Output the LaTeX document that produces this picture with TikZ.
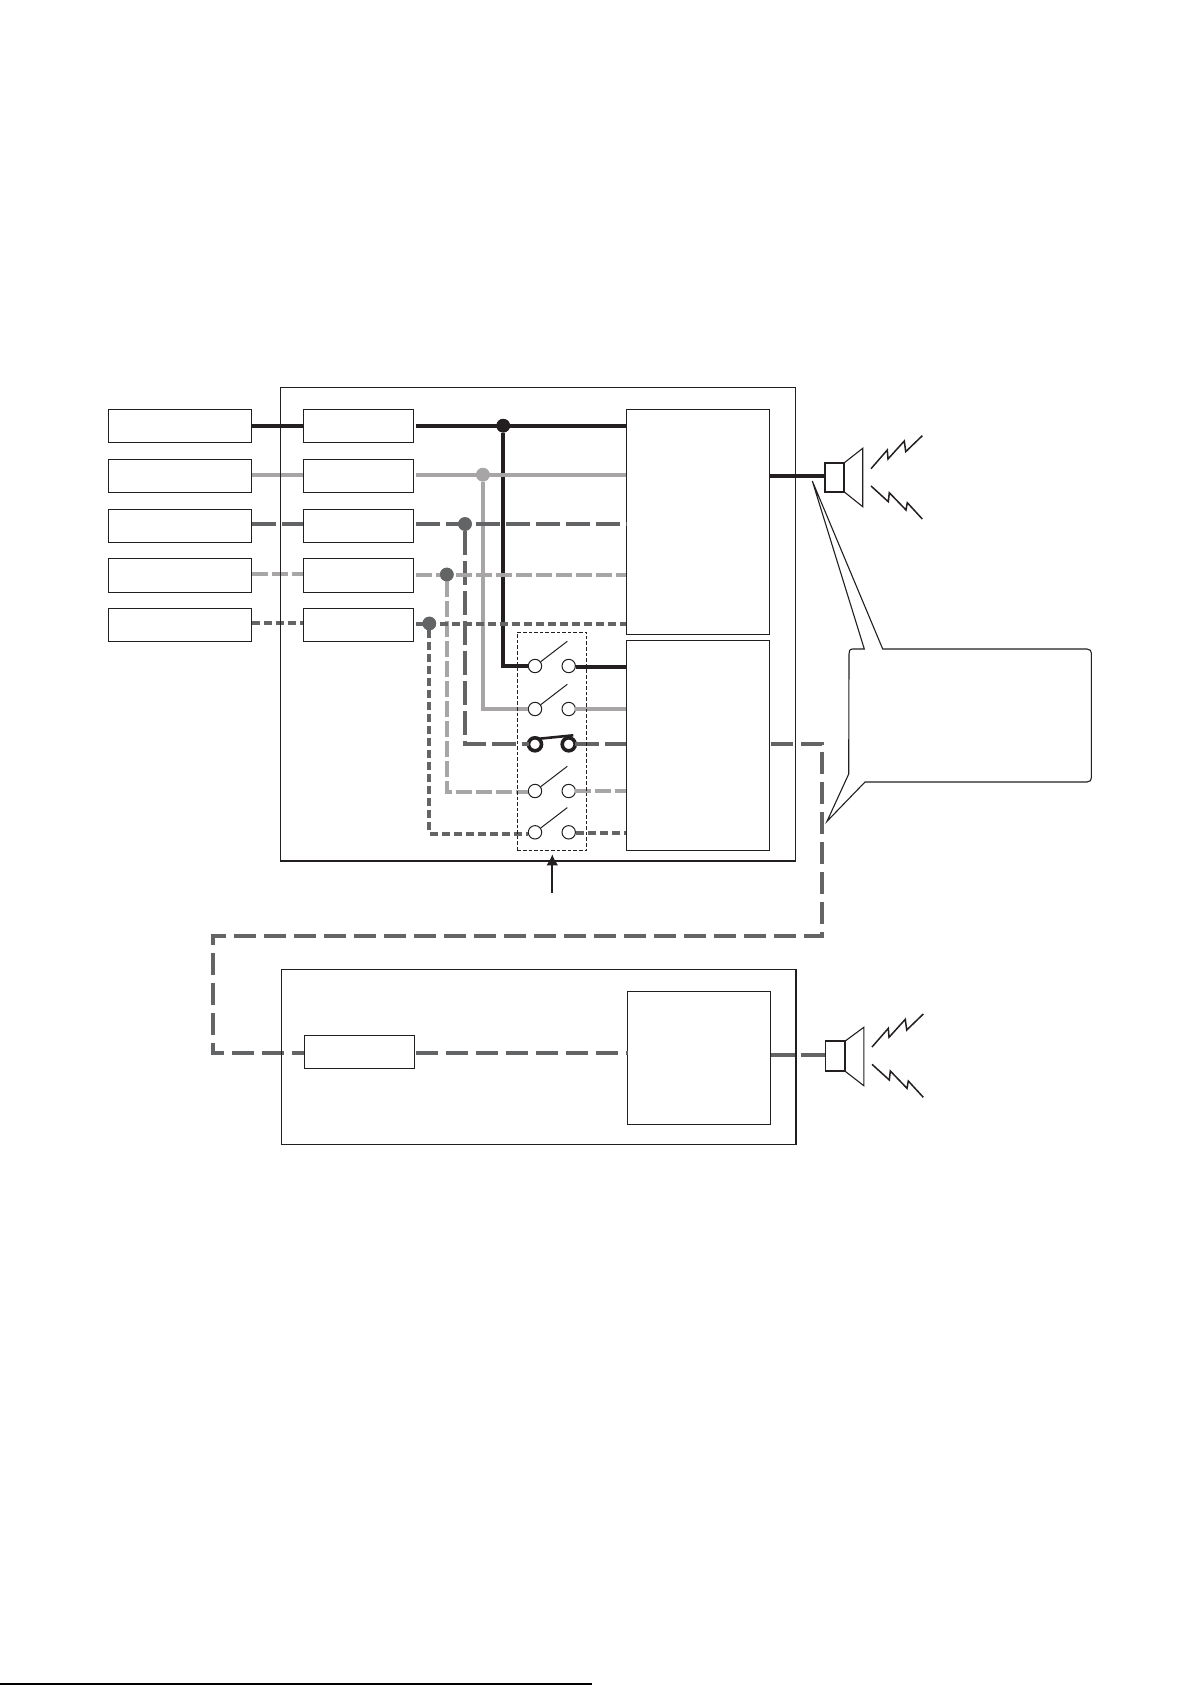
\documentclass[tikz,border=0pt]{standalone}
\usetikzlibrary{arrows.meta}
\definecolor{wblack}{HTML}{231F20}
\definecolor{wlight}{HTML}{A7A5A6}
\definecolor{wdark}{HTML}{636466}
\tikzset{
  blk/.style={draw=wblack,line width=1.15pt,inner sep=0pt,outer sep=0pt,anchor=north west},
  wire/.style={line width=4pt,line cap=butt,line join=miter},
  wa/.style={wire,draw=wblack},
  wb/.style={wire,draw=wlight},
  wc/.style={wire,draw=wdark,dash pattern=on 24pt off 6pt},
  wd/.style={wire,draw=wlight,dash pattern=on 16pt off 4pt},
  we/.style={wire,draw=wdark,dash pattern=on 8pt off 4pt},
  wf/.style={wire,draw=wdark,dash pattern=on 22pt off 8pt},
  dot/.style={circle,inner sep=0pt,outer sep=0pt,minimum size=13.6pt},
  swc/.style={circle,draw=wblack,fill=white,line width=1pt,inner sep=0pt,outer sep=0pt,minimum size=13.4pt},
  swt/.style={circle,draw=wblack,fill=white,line width=3.6pt,inner sep=0pt,outer sep=0pt,minimum size=13pt},
  blade/.style={draw=wblack,line width=1pt},
  thin line/.style={draw=wblack,line width=1.1pt,line join=miter},
  bolt/.style={draw=wblack,line width=1.5pt,line join=miter},
}
\begin{document}
\begin{tikzpicture}[x=1pt,y=-1pt]
\useasboundingbox (0,0) rectangle (1191,1685);
\fill[white] (0,0) rectangle (1191,1685);
% source boxes
\node[blk,minimum width=143.3,minimum height=33] (s1) at (108.5,409.3) {};
\node[blk,minimum width=143.3,minimum height=33] (s2) at (108.5,459.3) {};
\node[blk,minimum width=143.3,minimum height=33] (s3) at (108.5,509.3) {};
\node[blk,minimum width=143.3,minimum height=34] (s4) at (108.5,558.3) {};
\node[blk,minimum width=143.3,minimum height=33] (s5) at (108.5,608.3) {};
% receiver boxes
\node[blk,minimum width=110.4,minimum height=33] (m1) at (303.2,409.3) {};
\node[blk,minimum width=110.4,minimum height=33] (m2) at (303.2,459.3) {};
\node[blk,minimum width=110.4,minimum height=33] (m3) at (303.2,509.3) {};
\node[blk,minimum width=110.4,minimum height=34] (m4) at (303.2,558.3) {};
\node[blk,minimum width=110.4,minimum height=33] (m5) at (303.2,608.3) {};
% main blocks
\node[blk,minimum width=143,minimum height=225] (b1) at (626.4,409.3) {};
\node[blk,minimum width=143,minimum height=210] (b2) at (626.4,640.3) {};
% lower unit
\node[blk,minimum width=110,minimum height=33] (m6) at (304.4,1035.3) {};
\node[blk,minimum width=143,minimum height=133] (b3) at (627.7,991.3) {};
% junctions
\node[dot,fill=wblack] (j1) at (503.2,425.7) {};
\node[dot,fill=wlight] (j2) at (482.9,474.7) {};
\node[dot,fill=wdark] (j3) at (465,524) {};
\node[dot,fill=wdark] (j4) at (446.8,574.5) {};
\node[dot,fill=wdark] (j5) at (429.3,623.5) {};
% switches
\node[swc] (l1) at (535,666) {};
\node[swc] (r1) at (568.7,666) {};
\node[swc] (l2) at (535,709) {};
\node[swc] (r2) at (568.7,709) {};
\node[swt] (l3) at (535,744.3) {};
\node[swt] (r3) at (568.7,744.3) {};
\node[swc] (l4) at (535,791) {};
\node[swc] (r4) at (568.7,791) {};
\node[swc] (l5) at (535,832.3) {};
\node[swc] (r5) at (568.7,832.3) {};
% speakers
\node[blk,line width=1.8pt,minimum width=19.3,minimum height=28.7] (k1) at (824.7,463) {};
\node[blk,line width=1.8pt,minimum width=19.3,minimum height=29.7] (k2) at (825.5,1041.3) {};
% free ends
\coordinate (x1) at (415.5,425.7);
\coordinate (x2) at (415.5,474.7);
\coordinate (x3) at (415.5,524);
\coordinate (x4) at (415.5,575);
\coordinate (x5) at (415.5,624);
\coordinate (a1) at (251.8,425.7);
\coordinate (a2) at (251.8,474.7);
\coordinate (a3) at (251.8,524);
\coordinate (a4) at (251.8,574);
\coordinate (a5) at (251.8,623);
\coordinate (o1) at (769.9,475.7);
\coordinate (o2) at (771,743.7);
\coordinate (c1) at (822.3,743.7);
\coordinate (c2) at (822.3,936.3);
\coordinate (c3) at (212.8,936.3);
\coordinate (c4) at (212.8,1053.3);
\coordinate (y3) at (416,1052.7);
\coordinate (o3) at (770.7,1055);
\coordinate (atip) at (552.3,854.3);
\coordinate (atail) at (552.3,892.7);
\coordinate (fl) at (0,1684);
\coordinate (fr) at (592,1684);
\coordinate (w4) at (528,792.2);
\coordinate (w5) at (528,833.7);
\coordinate (v1) at (575.5,667);
\coordinate (v5) at (575.5,833);
% vertical branches
\draw[wa] (j1) -- (j1 |- l1) -- (l1);
\draw[wb] (j2) -- (j2 |- l2) -- (l2);
\draw[wc] (j3) -- (j3 |- l3) -- (l3);
\draw[wd] (j4) -- (j4 |- w4) -- (w4);
\draw[we] (j5) -- (j5 |- w5) -- (w5);
% horizontal buses
\draw[wa] (a1) -- (a1 -| m1.west);
\draw[wb] (a2) -- (a2 -| m2.west);
\draw[wc] (a3) -- (a3 -| m3.west);
\draw[wd] (a4) -- (a4 -| m4.west);
\draw[we] (a5) -- (a5 -| m5.west);
\draw[wa] (x1) -- (x1 -| b1.west);
\draw[wb] (x2) -- (x2 -| b1.west);
\draw[wc] (x3) -- (x3 -| b1.west);
\draw[wd] (x4) -- (x4 -| b1.west);
\draw[we] (x5) -- (x5 -| b1.west);
% switch outputs
\draw[wa] (v1) -- (v1 -| b2.west);
\draw[wb] (r2) -- (r2 -| b2.west);
\draw[wc] (r3) -- (r3 -| b2.west);
\draw[wd] (r4) -- (r4 -| b2.west);
\draw[we] (v5) -- (v5 -| b2.west);
% junction dots on top
\node[dot,fill=wblack] at (j1) {};
\node[dot,fill=wlight] at (j2) {};
\node[dot,fill=wdark] at (j3) {};
\node[dot,fill=wdark] at (j4) {};
\node[dot,fill=wdark] at (j5) {};
% outputs and link between units
\draw[wa] (o1) -- (o1 -| k1.west);
\draw[wf] (o2) -- (c1) -- (c2) -- (c3) -- (c4) -- (c4 -| m6.west);
\draw[wf] (y3) -- (y3 -| b3.west);
\draw[wc] (o3) -- (o3 -| k2.west);
% switch blades
\draw[blade] (l1.center) ++(5.7,-4.3) -- ++(26.6,-20.4);
\draw[blade] (l2.center) ++(5.7,-4.3) -- ++(26.6,-20.4);
\draw[blade] (l4.center) ++(5.7,-4.3) -- ++(26.6,-20.4);
\draw[blade] (l5.center) ++(5.7,-4.3) -- ++(26.6,-20.4);
\draw[draw=wblack,line width=2.6pt] (l3.center) ++(4.3,-5.6) -- ++(34,-3.4);
% dashed switch box
\node[blk,dash pattern=on 3.6pt off 2pt,line width=0.9pt,minimum width=69.4,minimum height=217.7] (sw) at (517.3,632.3) {};
% control arrow
\draw[draw=wblack,line width=2pt,-{Latex[length=11pt,width=12pt,sep=0pt]}] (atail) -- (atip);
% speakers' cones and sound marks
\draw[thin line] (k1.north east) -- (862.7,448.3) -- (862.7,506.7) -- (k1.south east);
\draw[bolt] (871,468.7) -- (887.3,450) -- (888,459) -- (904.3,441) -- (905.7,451.7) -- (922.3,435.7);
\draw[bolt] (871,486) -- (888.3,501.7) -- (889.3,492.7) -- (906,510) -- (907.3,502.7) -- (922.3,519);
\draw[thin line] (k2.north east) -- (863.8,1027.3) -- (863.8,1085.7) -- (k2.south east);
\begin{scope}[yshift=-578.3pt,xshift=1pt]
\draw[bolt] (871,468.7) -- (887.3,450) -- (888,459) -- (904.3,441) -- (905.7,451.7) -- (922.3,435.7);
\draw[bolt] (871,486) -- (888.3,501.7) -- (889.3,492.7) -- (906,510) -- (907.3,502.7) -- (922.3,519);
\end{scope}
% callout
\draw[thin line] (812.3,481) -- (864.3,649) -- (853,649) .. controls (849.4,649) and (849,651) .. (849,654) -- (848.7,774) -- (827,821.3) -- (865,782) -- (1087,782) .. controls (1090,782) and (1091.3,780) .. (1091.3,778) -- (1091.3,653) .. controls (1091.3,651) and (1090,649) .. (1087,649) -- (882.7,649) -- cycle;
% enclosures
\node[blk,minimum width=515.1,minimum height=473.7] (u1) at (280.4,387.3) {};
\node[blk,minimum width=514.4,minimum height=175] (u2) at (281.6,969.3) {};
% page foot rule
\draw[draw=black,line width=1.5pt] (fl) -- (fr);
\end{tikzpicture}
\end{document}
